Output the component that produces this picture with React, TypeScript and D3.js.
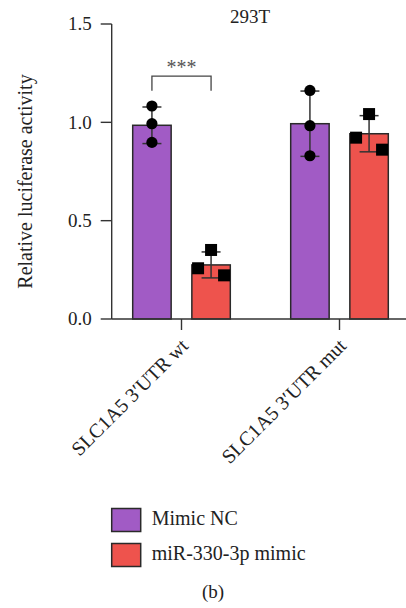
import React from "react";
import * as d3 from "d3";

// Construct labels and series
const groups = ["SLC1A5 3′UTR wt", "SLC1A5 3′UTR mut"];
const series = ["Mimic NC", "miR-330-3p mimic"];
const seriesColors = ["#a15bc5", "#ee534d"];

// Bar heights (means) and error half-widths (SD) per group
const meansNC = [0.985, 0.993];
const meansMimic = [0.275, 0.942];
const sdNC = [0.093, 0.166];
const sdMimic = [0.066, 0.092];

// Individual replicates per group
const pointsNC = [
  [1.083, 0.993, 0.898],
  [1.162, 0.983, 0.83],
];
const pointsMimic = [
  [0.258, 0.351, 0.222],
  [0.922, 1.042, 0.861],
];

const yTicks = [0, 0.5, 1.0, 1.5];
const title = "293T";
const yLabel = "Relative luciferase activity";
const significance = "***";
const panelLabel = "(b)";

const W = 406;
const H = 608;
const FONT = "Liberation Serif, Times New Roman, DejaVu Serif, serif";
const AXIS = "#333";

export default function App() {
  const y = d3.scaleLinear().domain([0, 1.5]).range([319, 24]);
  const xGroup = d3.scalePoint<string>().domain(groups).range([181.5, 339.5]);
  const xSub = d3
    .scaleBand<string>()
    .domain(series)
    .range([-48.8, 48.8])
    .paddingInner(0.35)
    .paddingOuter(0);
  const bw = xSub.bandwidth();

  const means = [meansNC, meansMimic];
  const sds = [sdNC, sdMimic];

  const axisLeft = 111.7;
  const axisBottom = y(0);

  const barCenter = (gi: number, si: number) =>
    (xGroup(groups[gi]) as number) + (xSub(series[si]) as number) + bw / 2;

  const txt = { fontFamily: FONT };

  return (
    <svg
      width={W}
      height={H}
      style={{ position: "absolute", left: 0, top: 0, background: "#fff", fontFamily: FONT }}
    >
      {/* title */}
      <text x={250} y={22.7} fontSize={19} textAnchor="middle" fill="#222" style={txt}>
        {title}
      </text>

      {/* y axis label */}
      <text
        transform={`translate(32,${181.5}) rotate(-90)`}
        fontSize={20}
        textAnchor="middle"
        fill="#222"
        style={txt}
      >
        {yLabel}
      </text>

      {/* bars */}
      {groups.map((g, gi) =>
        series.map((s, si) => {
          const cx = barCenter(gi, si);
          const v = means[si][gi];
          return (
            <rect
              key={`b-${gi}-${si}`}
              x={cx - bw / 2}
              y={y(v)}
              width={bw}
              height={axisBottom - y(v)}
              fill={seriesColors[si]}
              stroke="#2a2a2a"
              strokeWidth={1.5}
            />
          );
        })
      )}

      {/* error bars */}
      {groups.map((g, gi) =>
        series.map((s, si) => {
          const cx = barCenter(gi, si);
          const m = means[si][gi];
          const sd = sds[si][gi];
          const capW = 9.5;
          return (
            <g key={`e-${gi}-${si}`} stroke="#333" strokeWidth={1.5}>
              <line x1={cx} x2={cx} y1={y(m + sd)} y2={y(m - sd)} />
              <line x1={cx - capW} x2={cx + capW} y1={y(m + sd)} y2={y(m + sd)} />
              <line x1={cx - capW} x2={cx + capW} y1={y(m - sd)} y2={y(m - sd)} />
            </g>
          );
        })
      )}

      {/* replicate points */}
      {groups.map((g, gi) =>
        pointsNC[gi].map((v, k) => (
          <circle
            key={`c-${gi}-${k}`}
            cx={barCenter(gi, 0)}
            cy={y(v)}
            r={5.6}
            fill="#000"
          />
        ))
      )}
      {groups.map((g, gi) =>
        pointsMimic[gi].map((v, k) => {
          const jitter = (k === 0 ? -1 : k === 1 ? 0 : 1) * 13;
          const s = 12;
          return (
            <rect
              key={`s-${gi}-${k}`}
              x={barCenter(gi, 1) + jitter - s / 2}
              y={y(v) - s / 2}
              width={s}
              height={s}
              fill="#000"
            />
          );
        })
      )}

      {/* significance bracket */}
      <path
        d={`M${barCenter(0, 0)},${y(1.16)} V${y(1.235)} H${barCenter(0, 1)} V${y(1.16)}`}
        fill="none"
        stroke="#444"
        strokeWidth={1.3}
      />
      <text
        x={(barCenter(0, 0) + barCenter(0, 1)) / 2}
        y={74}
        fontSize={20}
        textAnchor="middle"
        fill="#555"
        style={txt}
      >
        {significance}
      </text>

      {/* y axis */}
      <line x1={axisLeft} x2={axisLeft} y1={y(1.5)} y2={axisBottom} stroke={AXIS} strokeWidth={1.4} />
      {yTicks.map((t) => (
        <g key={`yt-${t}`}>
          <line x1={axisLeft - 11} x2={axisLeft} y1={y(t)} y2={y(t)} stroke={AXIS} strokeWidth={1.4} />
          <text
            x={axisLeft - 20}
            y={y(t)}
            dy="0.33em"
            fontSize={19}
            textAnchor="end"
            fill="#222"
            style={txt}
          >
            {d3.format(".1f")(t)}
          </text>
        </g>
      ))}

      {/* x axis */}
      <line x1={axisLeft} x2={W} y1={axisBottom} y2={axisBottom} stroke={AXIS} strokeWidth={1.4} />
      {groups.map((g) => {
        const gx = xGroup(g) as number;
        return (
          <g key={`xt-${g}`}>
            <line x1={gx} x2={gx} y1={axisBottom} y2={axisBottom + 11} stroke={AXIS} strokeWidth={1.4} />
            <text
              transform={`translate(${gx + 8},${axisBottom + 28}) rotate(-45)`}
              fontSize={20}
              textAnchor="end"
              fill="#222"
              style={txt}
            >
              {g}
            </text>
          </g>
        );
      })}

      {/* legend */}
      {series.map((s, si) => {
        const top = 508.5 + si * 35;
        return (
          <g key={`lg-${s}`}>
            <rect
              x={111.7}
              y={top}
              width={29}
              height={23}
              fill={seriesColors[si]}
              stroke="#2a2a2a"
              strokeWidth={1.5}
            />
            <text x={151.7} y={top + 16.5} fontSize={20} fill="#222" style={txt}>
              {s}
            </text>
          </g>
        );
      })}

      <text x={213} y={598} fontSize={19} textAnchor="middle" fill="#222" style={txt}>
        {panelLabel}
      </text>
    </svg>
  );
}
